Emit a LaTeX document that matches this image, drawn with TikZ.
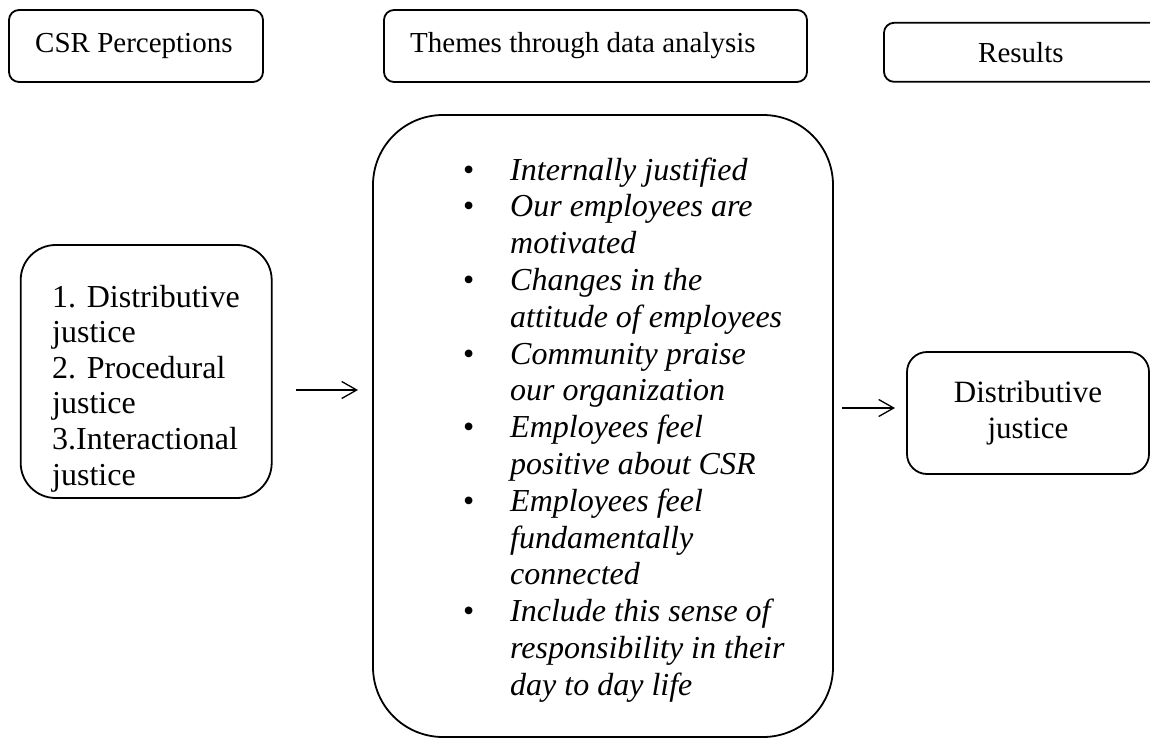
\documentclass[tikz,border=0pt]{standalone}
\usepackage{fontspec}
\setmainfont{Liberation Serif}
\usetikzlibrary{arrows.meta}
\begin{document}
\begin{tikzpicture}[x=1pt,y=-1pt,
  box/.style={draw, line width=1.8pt, inner sep=0pt, outer sep=0pt},
  headtext/.style={anchor=base west, inner sep=0pt, font=\fontsize{29}{35}\selectfont},
  bodytext/.style={anchor=base west, inner sep=0pt, font=\fontsize{32}{36}\selectfont},
  themetext/.style={anchor=base west, inner sep=0pt, font=\fontsize{32}{36}\selectfont\itshape},
  bulletmark/.style={anchor=base west, inner sep=0pt, font=\fontsize{32}{36}\selectfont},
  arr/.style={line width=1.3pt, -{Straight Barb[length=15pt, width=17pt, line width=1.3pt]}}
]
\useasboundingbox (0,0) rectangle (1150,738);

% column headers
\node[box, rounded corners=10pt, minimum width=254pt, minimum height=72pt] (h1) at (136,46) {};
\node[box, rounded corners=10pt, minimum width=423pt, minimum height=72pt] (h2) at (595.5,46) {};
\node[box, rounded corners=10pt, minimum width=286pt, minimum height=59pt] (h3) at (1027,52.3) {};
\node[headtext] (h1t) at (35,53) {CSR Perceptions};
\node[headtext] (h2t) at (410,53) {Themes through data analysis};
\node[headtext] (h3t) at (978,63) {Results};

% perceptions box
\node[box, rounded corners=35pt, minimum width=251pt, minimum height=253pt] (lbox) at (146.2,371.5) {};
\foreach \t [count=\i from 0] in {{1. Distributive},{justice},{2. Procedural},{justice},{3.Interactional},{justice}}
  \node[bodytext] (l\i) at (52,{307+35.6*\i}) {\t};

% themes box
\node[box, rounded corners=70pt, minimum width=460pt, minimum height=622pt] (mbox) at (603,426) {};
\foreach \b/\t [count=\i from 0] in {
  1/{Internally justified},
  1/{Our employees are},
  0/{motivated},
  1/{Changes in the},
  0/{attitude of employees},
  1/{Community praise},
  0/{our organization},
  1/{Employees feel},
  0/{positive about CSR},
  1/{Employees feel},
  0/{fundamentally},
  0/{connected},
  1/{Include this sense of},
  0/{responsibility in their},
  0/{day to day life}}{
  \node[themetext] (m\i) at (510,{180+36.8*\i}) {\t};
  \ifnum\b=1 \node[bulletmark] (b\i) at (463,{180+36.8*\i}) {•};\fi
}

% result box
\node[box, rounded corners=20pt, minimum width=242pt, minimum height=122pt,
      align=center, font=\fontsize{31}{36}\selectfont] (rbox) at (1028,413) {Distributive\\justice};

% connectors
\coordinate (row1) at (0,390);
\coordinate (row2) at (0,408);
\draw[arr, shorten <=24pt, shorten >=15pt] (lbox.east |- row1) -- (mbox.west |- row1);
\draw[arr, shorten <=9pt, shorten >=12pt] (mbox.east |- row2) -- (rbox.west |- row2);
\end{tikzpicture}
\end{document}
